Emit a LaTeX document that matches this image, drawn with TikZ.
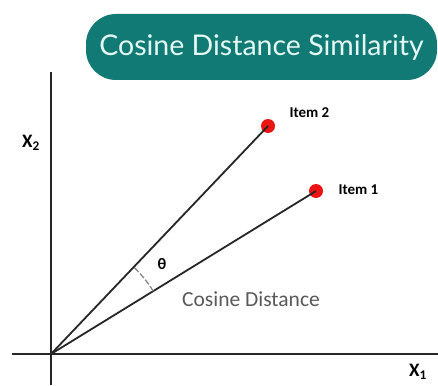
\documentclass[tikz,border=0pt]{standalone}
\usepackage{fontspec}
\setmainfont{Carlito}
\newfontfamily\titlefont{Lato}
\usepackage{tikz}
\usetikzlibrary{arrows.meta,positioning}
\definecolor{TTeal}{RGB}{18,122,117}
\definecolor{TText}{RGB}{228,248,244}
\definecolor{DDot}{RGB}{235,20,20}

\begin{document}
\begin{tikzpicture}[x=1pt,y=-1pt,
    axis/.style={line width=2.6pt,black!85},
    vec/.style={line width=1.8pt,black!85},
    itemdot/.style={circle,fill=DDot,inner sep=0pt,minimum size=14pt},
    itemlabel/.style={font=\fontsize{15}{17}\selectfont\bfseries,anchor=west},
    axislabel/.style={font=\fontsize{19}{21}\selectfont\bfseries}
  ]
  \useasboundingbox[fill=white] (0,0) rectangle (438,385);

  % title banner
  \node[
    rounded corners=30pt,
    fill=TTeal,
    minimum width=351pt,
    minimum height=66pt,
    inner sep=0pt
  ] (title) at (261.5,47) {
    {\titlefont\fontsize{28.5}{32}\selectfont\color{TText}Cosine Distance Similarity}
  };

  % axes
  \coordinate (O) at (51,354);
  \coordinate (ytop) at (51,72);
  \coordinate (ybot) at (51,385);
  \coordinate (xleft) at (12,354);
  \coordinate (xright) at (438,354);
  \draw[axis] (ybot) -- (ytop);
  \draw[axis] (xleft) -- (xright);
  \node[axislabel] (xtwo) at (31,143) {X\textsubscript{2}};
  \node[axislabel] (xone) at (418,372) {X\textsubscript{1}};

  % the two items
  \node[itemdot] (item2) at (268,126) {};
  \node[itemdot] (item1) at (316,191) {};
  \draw[vec] (O) -- (item2.center);
  \draw[vec] (O) -- (item1.center);
  \node[itemlabel] (lab2) at (286,113) {Item 2};
  \node[itemlabel] (lab1) at (335,190) {Item 1};

  % angle
  \draw[gray,line width=1.2pt,dash pattern=on 6pt off 2pt] (O) ++(31.6:120pt) arc[start angle=-31.6,end angle=-46.4,radius=120];
  \node[font=\fontsize{16}{18}\selectfont\bfseries] (theta) at (162,264) {θ};
  \node[font=\fontsize{21.5}{24}\selectfont,text=black!65] (cosdist) at (251,299) {Cosine Distance};
\end{tikzpicture}
\end{document}
